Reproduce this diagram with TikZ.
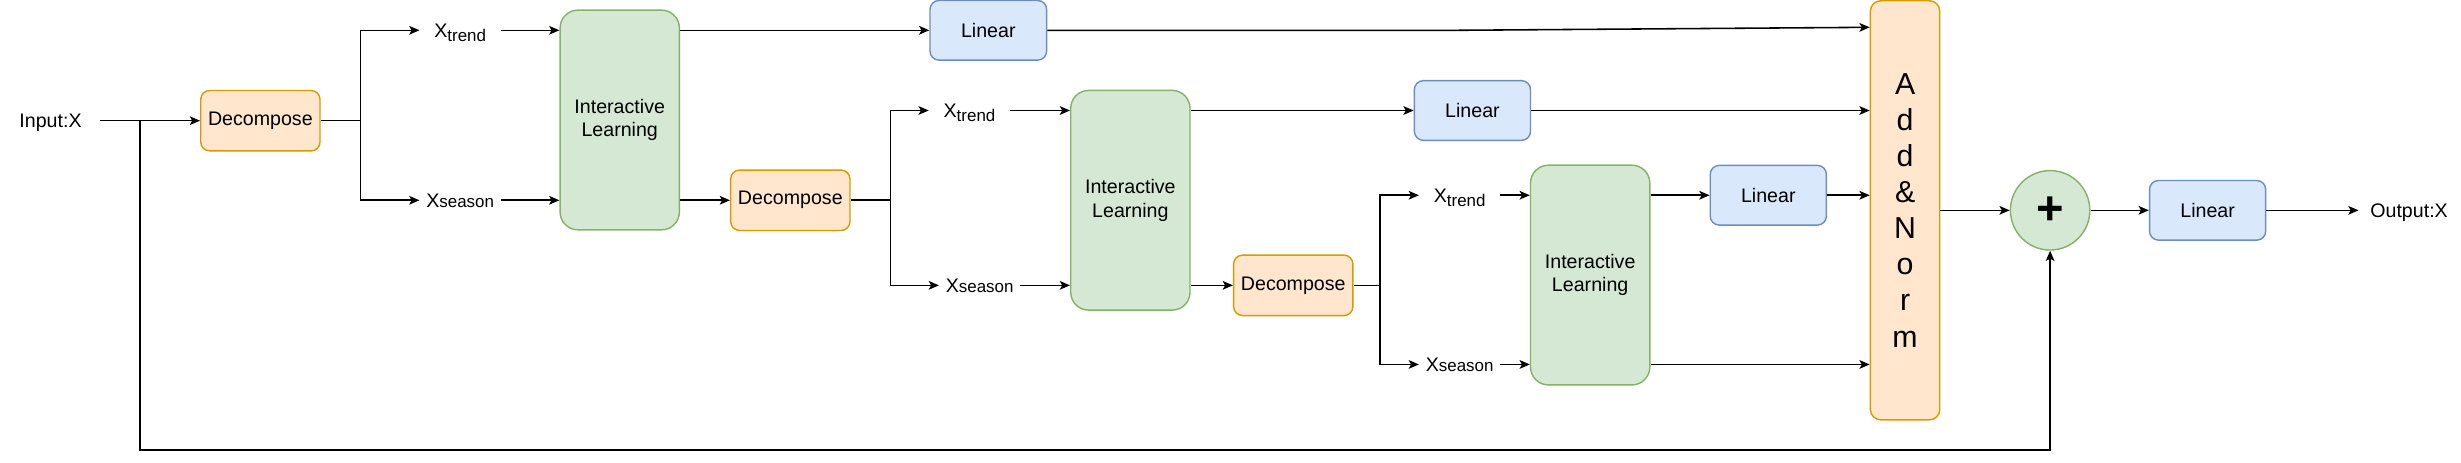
\documentclass[tikz,border=0pt]{standalone}
\usepackage{fontspec}
\setmainfont{Liberation Sans}
\usetikzlibrary{arrows.meta,positioning,calc}
\definecolor{lorange}{HTML}{FFE6CC}
\definecolor{dorange}{HTML}{D79B00}
\definecolor{lgreen}{HTML}{D5E8D4}
\definecolor{dgreen}{HTML}{82B366}
\definecolor{lblue}{HTML}{DAE8FC}
\definecolor{dblue}{HTML}{6C8EBF}
\newcommand{\subtxt}[1]{{\fontsize{10.8}{12}\selectfont #1}}
\begin{document}
\begin{tikzpicture}[x=1pt,y=-1pt,
  base/.style={font=\fontsize{12.5}{15}\selectfont, text=black},
  decomp/.style={base, draw=dorange, fill=lorange, line width=0.9pt, rounded corners=5.7pt, minimum width=76pt, minimum height=38.5pt, inner sep=0pt},
  inter/.style={base, draw=dgreen, fill=lgreen, line width=0.9pt, rounded corners=11.4pt, minimum width=76pt, minimum height=140pt, align=center, inner sep=0pt},
  lin/.style={base, draw=dblue, fill=lblue, line width=0.9pt, rounded corners=5.7pt, minimum width=74pt, minimum height=38pt, inner sep=0pt},
  lab/.style={base, inner sep=0pt, text height=8.95pt, text depth=0pt, minimum width=51.5pt},
  arr/.style={-{Stealth[length=6.5pt,width=5.5pt,inset=1.5pt]}, line width=1pt},
  ln/.style={line width=1pt},
]
\useasboundingbox (0,0) rectangle (1568,294.4);

% nodes
\node[lab, minimum width=63.2pt] (in) at (32.2,76.9) {Input:X};
\coordinate (j0) at (89.2,76.9);
\node[decomp] (d1) at (165.9,76.9) {Decompose};
\coordinate (s1) at (229.6,76.9);
\node[lab] (t1) at (293.2,19.3) {X\raisebox{-2.7pt}{\subtxt{trend}}};
\node[lab] (e1) at (293.2,127.6) {X\subtxt{season}};
\node[inter] (il1) at (394.85,76.45) {Interactive\\Learning};
\node[lin, minimum width=74.3pt] (l1) at (629.7,19.3) {Linear};
\node[decomp] (d2) at (503.55,127.6) {Decompose};
\coordinate (s2) at (567.4,127.6);
\node[lab] (t2) at (617.7,70.4) {X\raisebox{-2.7pt}{\subtxt{trend}}};
\node[lab] (e2) at (624.2,181.8) {X\subtxt{season}};
\node[inter] (il2) at (720.2,127.6) {Interactive\\Learning};
\node[lin] (l2) at (938.15,70.4) {Linear};
\node[decomp] (d3) at (824.0,181.8) {Decompose};
\coordinate (s3) at (879.2,181.8);
\node[lab] (t3) at (930,124.4) {X\raisebox{-2.7pt}{\subtxt{trend}}};
\node[lab] (e3) at (930,232.2) {X\subtxt{season}};
\node[inter] (il3) at (1013.15,175.25) {Interactive\\Learning};
\node[lin] (l3) at (1126.65,124.4) {Linear};
\node[decomp, minimum width=44.2pt, minimum height=267pt, rounded corners=6.6pt, align=center,
      font=\fontsize{19.3}{23}\selectfont] (an) at (1213.8,134) {A\\d\\d\\\&\\N\\o\\r\\m};
\node[circle, draw=dgreen, fill=lgreen, line width=0.9pt, minimum size=50.6pt, inner sep=0pt] (c) at (1306.2,134) {};
\node[font=\fontsize{30}{30}\selectfont\bfseries, inner sep=0pt] (plus) at (c.center) {+};
\node[lin] (l4) at (1406.55,134) {Linear};
\node[lab, minimum width=64pt] (out) at (1534.9,134) {Output:X};
\coordinate (k1) at (929,19.3);
\coordinate (a1y) at (0,17.4);
\coordinate (b0) at (89.2,286.7);

% connectors
\draw[arr] (in.east) -- (d1.west);
\draw[arr] (j0) -- (b0) -- (c.south |- b0) -- (c.south);
\draw[ln] (d1.east) -- (s1);
\draw[arr] (s1) |- (t1.west);
\draw[arr] (s1) |- (e1.west);
\draw[arr] (t1.east) -- (il1.west |- t1);
\draw[arr] (e1.east) -- (il1.west |- e1);
\draw[arr] (il1.east |- t1) -- (l1.west);
\draw[arr] (l1.east) -- (k1) -- (an.west |- a1y);
\draw[arr] (il1.east |- e1) -- (d2.west);
\draw[ln] (d2.east) -- (s2);
\draw[arr] (s2) |- (t2.west);
\draw[arr] (s2) |- (e2.west);
\draw[arr] (t2.east) -- (il2.west |- t2);
\draw[arr] (e2.east) -- (il2.west |- e2);
\draw[arr] (il2.east |- t2) -- (l2.west);
\draw[arr] (l2.east) -- (an.west |- l2);
\draw[arr] (il2.east |- e2) -- (d3.west);
\draw[ln] (d3.east) -- (s3);
\draw[arr] (s3) |- (t3.west);
\draw[arr] (s3) |- (e3.west);
\draw[arr] (t3.east) -- (il3.west |- t3);
\draw[arr] (e3.east) -- (il3.west |- e3);
\draw[arr] (il3.east |- t3) -- (l3.west);
\draw[arr] (l3.east) -- (an.west |- l3);
\draw[arr] (il3.east |- e3) -- (an.west |- e3);
\draw[arr] (an.east |- c) -- (c.west);
\draw[arr] (c.east) -- (l4.west);
\draw[arr] (l4.east) -- (out.west);
\end{tikzpicture}
\end{document}
